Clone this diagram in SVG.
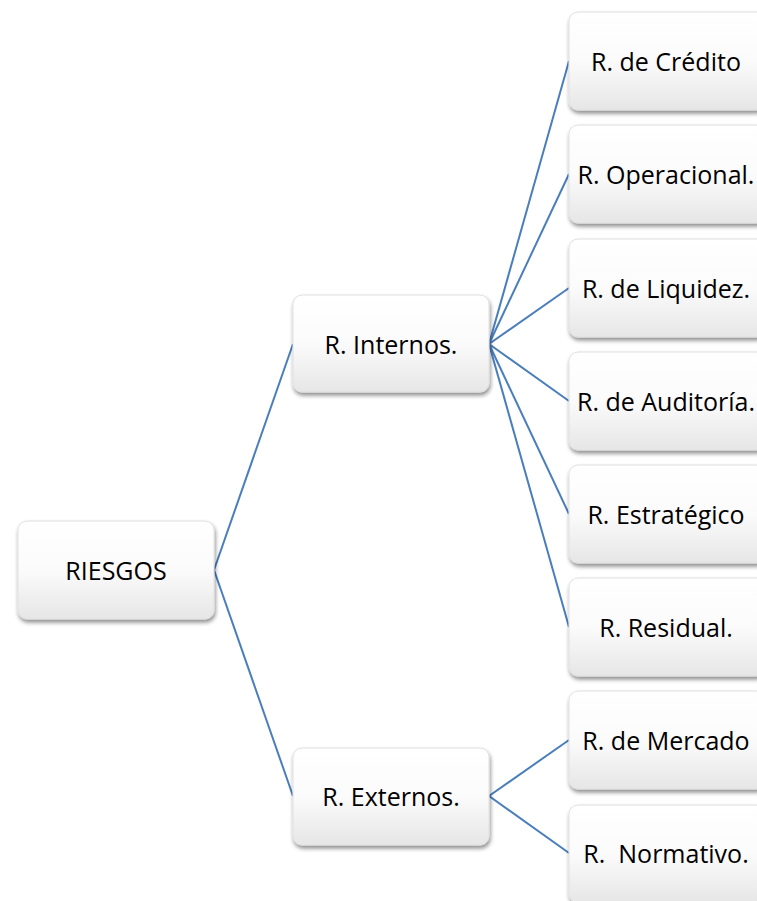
<svg xmlns="http://www.w3.org/2000/svg" width="757" height="901" viewBox="0 0 757 901">
<defs>
<linearGradient id="g" x1="0" y1="0" x2="0" y2="1">
<stop offset="0" stop-color="#ffffff"/>
<stop offset="0.5" stop-color="#fbfbfb"/>
<stop offset="1" stop-color="#e6e6e6"/>
</linearGradient>
<filter id="sh" x="-10%" y="-10%" width="125%" height="130%">
<feGaussianBlur in="SourceAlpha" stdDeviation="2"/>
<feOffset dx="1" dy="3"/>
<feComponentTransfer><feFuncA type="linear" slope="0.45"/></feComponentTransfer>
<feMerge><feMergeNode/><feMergeNode in="SourceGraphic"/></feMerge>
</filter>
</defs>
<style>
.box{fill:url(#g);stroke:#e0e0e0;stroke-width:1;filter:url(#sh)}
.t{font-family:"Open Sans","Liberation Sans",sans-serif;font-size:25px;fill:#000;text-anchor:middle;dominant-baseline:central}
.c{stroke:#4a7ebb;stroke-width:2;fill:none}
</style>
<rect width="757" height="901" fill="#fff"/>
<g id="connectors">
<line class="c" x1="214" y1="570" x2="293" y2="344"/>
<line class="c" x1="214" y1="570" x2="293" y2="796"/>
<line class="c" x1="489" y1="344" x2="569" y2="61"/>
<line class="c" x1="489" y1="344" x2="569" y2="174"/>
<line class="c" x1="489" y1="344" x2="569" y2="288"/>
<line class="c" x1="489" y1="344" x2="569" y2="401"/>
<line class="c" x1="489" y1="344" x2="569" y2="514"/>
<line class="c" x1="489" y1="344" x2="569" y2="627"/>
<line class="c" x1="489" y1="796" x2="569" y2="740"/>
<line class="c" x1="489" y1="796" x2="569" y2="853"/>
</g>
<g id="riesgos"><rect class="box" x="18" y="521" width="196" height="98" rx="9"/><text class="t" x="116" y="570">RIESGOS</text></g>
<g id="internos"><rect class="box" x="293" y="295" width="196" height="97" rx="9"/><text class="t" x="391" y="344">R. Internos.</text></g>
<g id="externos"><rect class="box" x="293" y="748" width="196" height="97" rx="9"/><text class="t" x="391" y="796">R. Externos.</text></g>
<g id="credito"><rect class="box" x="569" y="12" width="196" height="98" rx="9"/><text class="t" x="666" y="61">R. de Crédito</text></g>
<g id="operacional"><rect class="box" x="569" y="125" width="196" height="98" rx="9"/><text class="t" x="666" y="174">R. Operacional.</text></g>
<g id="liquidez"><rect class="box" x="569" y="239" width="196" height="98" rx="9"/><text class="t" x="666" y="288">R. de Liquidez.</text></g>
<g id="auditoria"><rect class="box" x="569" y="352" width="196" height="98" rx="9"/><text class="t" x="666" y="401">R. de Auditoría.</text></g>
<g id="estrategico"><rect class="box" x="569" y="465" width="196" height="98" rx="9"/><text class="t" x="666" y="514">R. Estratégico</text></g>
<g id="residual"><rect class="box" x="569" y="578" width="196" height="98" rx="9"/><text class="t" x="666" y="627">R. Residual.</text></g>
<g id="mercado"><rect class="box" x="569" y="691" width="196" height="98" rx="9"/><text class="t" x="666" y="740">R. de Mercado</text></g>
<g id="normativo"><rect class="box" x="569" y="805" width="196" height="98" rx="9"/><text class="t" x="666" y="853" xml:space="preserve">R.  Normativo.</text></g>
</svg>
